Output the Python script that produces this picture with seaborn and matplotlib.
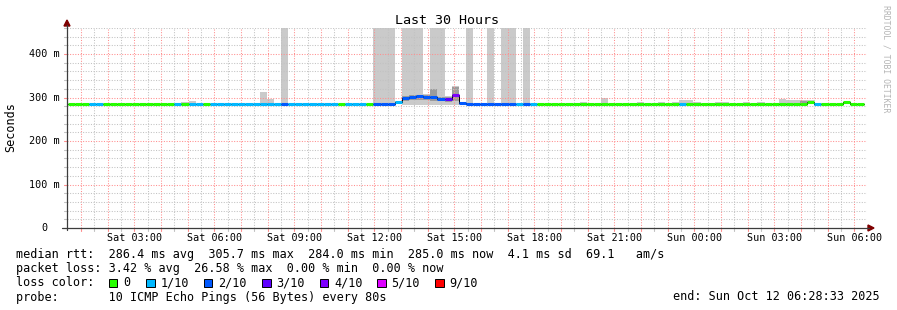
import matplotlib
matplotlib.use("Agg")
import matplotlib.pyplot as plt
import seaborn as sns
import pandas as pd
from matplotlib.patches import Rectangle, Polygon
from matplotlib.transforms import blended_transform_factory, offset_copy
from datetime import datetime, timedelta

# ---------------- data ----------------
title = "Last 30 Hours"
y_label = "Seconds"
watermark = "RRDTOOL / TOBI OETIKER"
end_time = datetime(2025, 10, 12, 6, 28, 33)
span_hours = 30
first_bin_time = datetime(2025, 10, 11, 0, 30, 0)
bin_minutes = 16

# median rtt per 16-minute bin (ms)
median_ms = [
    285.5, 285.5, 285.5, 285.5, 285.5, 285.5, 285.5, 285.5, 285.5, 285.5, 285.5, 285.5, 285.5, 285.5, 285.5, 285.5,
    285.5, 285.5, 285.5, 285.5, 284.2, 284.2, 284.2, 284.2, 284.2, 284.2, 284.2, 284.2, 284.2, 284.2, 284.2, 284.2,
    284.2, 284.2, 284.2, 284.2, 285.8, 285.8, 284.6, 284.2, 284.2, 285.8, 285.4, 285.0, 285.0, 285.0, 290.0, 298.5,
    301.5, 302.5, 300.5, 300.5, 297.0, 297.0, 305.7, 287.5, 284.8, 284.8, 284.8, 284.8, 284.8, 284.8, 284.8, 284.8,
    284.8, 284.8, 285.2, 285.2, 285.2, 285.2, 285.2, 285.2, 285.2, 285.2, 285.2, 285.2, 285.2, 285.2, 285.2, 285.2,
    285.2, 285.2, 285.2, 285.2, 285.2, 285.2, 284.8, 284.5, 284.5, 284.5, 284.5, 284.5, 284.5, 284.5, 284.5, 284.5,
    284.5, 284.5, 284.5, 284.5, 284.5, 284.5, 284.5, 285.5, 290.0, 284.5, 285.0, 285.0, 285.0, 289.0, 285.0, 285.0,
]
# lost pings (out of 10) per bin
loss_tenths = [
    0, 0, 0, 1, 1, 0, 0, 0, 0, 0, 0, 0, 0, 0, 0, 1,
    0, 1, 1, 0, 1, 1, 1, 1, 1, 1, 1, 1, 1, 1, 2, 1,
    1, 1, 1, 1, 1, 1, 0, 1, 1, 1, 0, 2, 2, 2, 1, 2,
    2, 2, 2, 2, 2, 3, 4, 2, 2, 2, 2, 2, 2, 2, 2, 1,
    2, 1, 0, 0, 0, 0, 0, 0, 0, 0, 0, 0, 0, 0, 0, 0,
    0, 0, 0, 0, 0, 0, 1, 0, 0, 0, 0, 0, 0, 0, 0, 0,
    0, 0, 0, 0, 0, 0, 0, 0, 0, 1, 0, 0, 0, 0, 0, 0,
]
# smoke (spread of individual pings), bins where it is visible
smoke_bin = [16, 17, 27, 28, 30, 43, 44, 45, 46, 47, 48, 49, 50, 51, 52, 53, 54, 55, 56, 59,
             61, 62, 64, 72, 75, 80, 83, 85, 86, 87, 88, 91, 92, 95, 97, 100, 101, 102, 103, 104]
smoke_top = [289, 292, 313, 297, 480, 480, 480, 480, 292, 480, 480, 480, 308, 480, 480, 303, 326, 290, 480, 480,
             480, 480, 480, 290, 300, 290, 290, 290, 295, 295, 290, 290, 290, 290, 290, 297, 293.5, 293.5, 294, 294]
smoke_bottom = [284, 284, 283, 283, 283, 283, 283, 283, 286, 282, 282, 282, 282, 282, 282, 282, 282, 284, 283, 283,
                283, 283, 283, 284, 284, 284, 284, 284, 284, 284, 284, 284, 284, 284, 284, 284, 284, 284, 284, 286]
dark_bin = [47, 48, 49, 50, 51, 52, 53, 54, 103]
dark_top = [304, 306, 307, 305, 319, 302, 301, 325, 293]
dark_bottom = [291, 294, 295, 294, 293, 291, 290, 292, 285]

x_tick_labels = ["Sat 03:00", "Sat 06:00", "Sat 09:00", "Sat 12:00", "Sat 15:00",
                 "Sat 18:00", "Sat 21:00", "Sun 00:00", "Sun 03:00", "Sun 06:00"]
y_ticks_ms = [0, 100, 200, 300, 400]
y_tick_labels = ["0", "100 m", "200 m", "300 m", "400 m"]

loss_labels = ["0", "1/10", "2/10", "3/10", "4/10", "5/10", "9/10"]
loss_colors = ["#26ff00", "#00b8ff", "#0059ff", "#5e00ff", "#7e00ff", "#dd00ff", "#ff0000"]
loss_min_tenths = [0, 1, 2, 3, 4, 5, 9]

median_stats = ["286.4 ms avg", "305.7 ms max", "284.0 ms min", "285.0 ms now", "4.1 ms sd", "69.1   am/s"]
loss_stats = ["3.42 % avg", "26.58 % max", "0.00 % min", "0.00 % now"]
probe_text = "10 ICMP Echo Pings (56 Bytes) every 80s"

# ---------------- style ----------------
sns.set_theme(style="white")
plt.rcParams['font.family'] = ['DejaVu Sans Mono', 'DejaVu Sans']
plt.rcParams['text.color'] = 'black'

W, H = 897, 310
fig = plt.figure(figsize=(W / 100, H / 100), dpi=100)
fig.patch.set_facecolor('white')

def fx(px):
    return px / W

def fy(py):
    return 1 - py / H

ax = fig.add_axes([fx(67), fy(228), 800 / W, 200 / H])
ax.set_facecolor('white')
for s in ax.spines.values():
    s.set_visible(False)
ax.set_xlim(0, span_hours)
ax.set_ylim(0, 460)
ax.set_xticks([])
ax.set_yticks([])

start = end_time - timedelta(hours=span_hours)

def hrs(t):
    return (t - start).total_seconds() / 3600.0

bin_h = bin_minutes / 60.0
n = len(median_ms)
b0 = hrs(first_bin_time)
bin_start = [b0 + k * bin_h for k in range(n)]

MGRID = '#ff8e8e'
GRID = '#c2c2c2'
dots = (0, (1, 1.5))

# vertical grid: every 30 min, red on full hours
xdata_yfig = blended_transform_factory(ax.transData, fig.transFigure)
t = datetime(2025, 10, 11, 1, 0, 0)
while t <= end_time:
    h = hrs(t)
    major = t.minute == 0
    ax.axvline(h, color=MGRID if major else GRID, lw=0.75, ls=dots, zorder=3.5)
    ax.plot([h, h], [fy(228), fy(230.5)], transform=xdata_yfig, clip_on=False,
            color=MGRID if major else GRID, lw=0.8, zorder=6)
    t += timedelta(minutes=30)

# horizontal grid: every 20 ms, red on 100 ms
yfig_xdata = blended_transform_factory(fig.transFigure, ax.transData)
for v in range(20, 461, 20):
    major = v % 100 == 0
    ax.axhline(v, color=MGRID if major else GRID, lw=0.75, ls=dots, zorder=3.5)
    ax.plot([fx(63.5), fx(67)], [v, v], transform=yfig_xdata, clip_on=False,
            color=MGRID if major else GRID, lw=0.8, zorder=6)

# smoke
ax.bar([bin_start[k] for k in smoke_bin],
       [tp - bt for tp, bt in zip(smoke_top, smoke_bottom)],
       bottom=smoke_bottom, width=bin_h, align='edge', color='#cacaca',
       linewidth=0, zorder=2)
ax.bar([bin_start[k] for k in dark_bin],
       [tp - bt for tp, bt in zip(dark_top, dark_bottom)],
       bottom=dark_bottom, width=bin_h, align='edge', color='#9c9c9c',
       linewidth=0, zorder=2.5)

# thin black median step line
step_df = pd.DataFrame({"h": bin_start + [bin_start[-1] + bin_h],
                        "ms": median_ms + [median_ms[-1]]})
sns.lineplot(data=step_df, x="h", y="ms", ax=ax, color="black", lw=0.7,
             drawstyle="steps-post", estimator=None, sort=False, zorder=4)
ax.set_xlabel("")
ax.set_ylabel("")

# loss-coloured median segments
def loss_color(l):
    idx = 0
    for i, m in enumerate(loss_min_tenths):
        if l >= m:
            idx = i
    return loss_colors[idx]

ax.hlines(median_ms, bin_start, [b + bin_h for b in bin_start],
          colors=[loss_color(l) for l in loss_tenths], lw=2.2, zorder=5,
          capstyle='butt')

# axes lines and arrows
AXIS = '#3c3c3c'
ARROW = '#7f0000'
fig.add_artist(plt.Line2D([fx(67), fx(67)], [fy(230), fy(25)], color=AXIS, lw=0.9))
fig.add_artist(plt.Line2D([fx(62), fx(869)], [fy(228), fy(228)], color=AXIS, lw=0.9))
fig.add_artist(Polygon([[fx(64), fy(26)], [fx(70), fy(26)], [fx(67), fy(20)]],
                       closed=True, color=ARROW, transform=fig.transFigure))
fig.add_artist(Polygon([[fx(868), fy(225)], [fx(868), fy(231)], [fx(874), fy(228)]],
                       closed=True, color=ARROW, transform=fig.transFigure))

# x tick labels
for lab in x_tick_labels:
    day = 11 if lab.startswith("Sat") else 12
    hh = int(lab[4:6])
    h = hrs(datetime(2025, 10, day, hh, 0, 0))
    ax.text(h, fy(241), lab, transform=xdata_yfig, ha='center', va='baseline',
            fontsize=7.3)

# y tick labels
ylab_tr = offset_copy(yfig_xdata, fig=fig, x=0, y=-3.2, units='dots')
for v, lab in zip(y_ticks_ms, y_tick_labels):
    xr = 59.5 if lab.endswith("m") else 47.3
    ax.text(fx(xr), v, lab, transform=ylab_tr, ha='right', va='baseline', fontsize=7.3)

# title, unit label, watermark
fig.text(fx(446.5), fy(24), title, ha='center', va='baseline', fontsize=9.6)
fig.text(fx(11), fy(127), y_label, rotation=90, ha='center', va='center', fontsize=8.5)
fig.text(fx(886), fy(59), watermark, rotation=270, ha='center', va='center',
         fontsize=5.9, color='#b4b4b4')

# legend block
lf = 8.5
fig.text(fx(16), fy(258), "median rtt:  " + "  ".join(median_stats), ha='left', va='baseline', fontsize=lf)
fig.text(fx(16), fy(272), "packet loss: " + "  ".join(loss_stats), ha='left', va='baseline', fontsize=lf)
fig.text(fx(16), fy(286.5), "loss color:", ha='left', va='baseline', fontsize=lf)
box_x = [108.5, 146, 203.5, 262, 319.5, 377, 435]
for bx, lab, col in zip(box_x, loss_labels, loss_colors):
    fig.add_artist(Rectangle((fx(bx), fy(287)), 8.5 / W, 8.5 / H, facecolor=col,
                             edgecolor='black', lw=0.7, transform=fig.transFigure))
    fig.text(fx(bx + 14.5), fy(286.5), lab, ha='left', va='baseline', fontsize=lf)
fig.text(fx(16), fy(300.5), "probe:       " + probe_text, ha='left', va='baseline', fontsize=lf)
fig.text(fx(880), fy(300.5), "end: " + end_time.strftime("%a %b %d %H:%M:%S %Y"),
         ha='right', va='baseline', fontsize=lf)

fig.savefig("out.png", dpi=100, facecolor='white')
